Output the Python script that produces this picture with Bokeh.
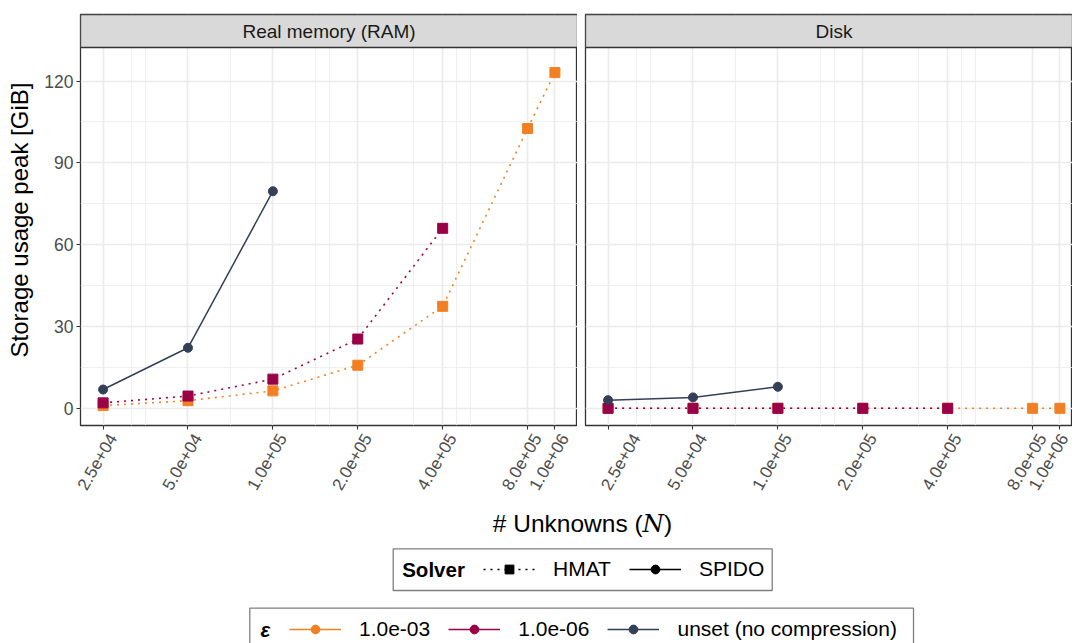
import math
from bokeh.plotting import figure
from bokeh.models import (Range1d, FixedTicker, CustomJSTickFormatter, Grid,
                          BoxAnnotation, Label, Legend, LegendItem)
from bokeh.layouts import column, row
from bokeh.embed import file_html
from bokeh.resources import INLINE

# ---------------- data ----------------
N_UNKNOWNS = [25000, 50000, 100000, 200000, 400000, 800000, 1000000]
N_TICK_LABELS = ["2.5e+04", "5.0e+04", "1.0e+05", "2.0e+05", "4.0e+05", "8.0e+05", "1.0e+06"]
PANELS = ["Real memory (RAM)", "Disk"]
SOLVERS = ["HMAT", "SPIDO"]
EPS_LABELS = ["1.0e-03", "1.0e-06", "unset (no compression)"]

# RAM peak [GiB]
HMAT_EPS3_RAM = [1.0, 2.8, 6.4, 15.8, 37.4, 102.6, 123.1]
HMAT_EPS6_RAM = [2.0, 4.5, 10.7, 25.4, 66.0]
SPIDO_RAM = [6.9, 22.2, 79.6]
# Disk peak [GiB]
HMAT_EPS3_DISK = [0.0, 0.0, 0.0, 0.0, 0.0, 0.0, 0.0]
HMAT_EPS6_DISK = [0.0, 0.0, 0.0, 0.0, 0.0]
SPIDO_DISK = [3.0, 4.0, 7.9]

Y_TICKS = [0, 30, 60, 90, 120]
Y_MINOR = [15, 45, 75, 105]
X_MINOR_LOG = [4.5, 4.55, 4.85, 5.15, 5.2, 5.5, 5.65, 5.7]

# ---------------- style / layout ----------------
FONT = "Liberation Sans"
ORANGE, PURPLE, NAVY = "#F28023", "#9A0048", "#343F58"
EPS_COLORS = [ORANGE, PURPLE, NAVY]
GRID_C = "#EBEBEB"
DARK = "#333333"

PAGE_W, PAGE_H = 1072, 643
LEFT_AXIS_W, GAP = 80, 8
FRAME_W_L = 497
FRAME_W_R = PAGE_W - LEFT_AXIS_W - FRAME_W_L - GAP
TOP_PAD, STRIP_PX, PANEL_PX, BOTTOM_AXIS = 14, 33, 378, 83
PANEL_FIG_H = TOP_PAD + STRIP_PX + PANEL_PX + BOTTOM_AXIS

lx_lo = math.log10(min(N_UNKNOWNS))
lx_hi = math.log10(max(N_UNKNOWNS))
span = lx_hi - lx_lo
LOG_START = lx_lo - 0.05 * span
LOG_END = lx_hi + 0.05 * span
PX_PER_DEC = FRAME_W_L / (LOG_END - LOG_START)
X_RANGE_L = Range1d(10 ** LOG_START, 10 ** LOG_END)
X_RANGE_R = Range1d(10 ** LOG_START, 10 ** (LOG_START + FRAME_W_R / PX_PER_DEC))

Y_LO, Y_HI = -6.3, 132.3
Y_TOP = Y_HI + (Y_HI - Y_LO) * STRIP_PX / PANEL_PX
Y_RANGE = Range1d(Y_LO, Y_TOP)
X_MINOR = [10 ** v for v in X_MINOR_LOG]


def make_panel(title, series, left_axis):
    xr = X_RANGE_L if left_axis else X_RANGE_R
    fw = FRAME_W_L if left_axis else FRAME_W_R
    p = figure(width=(LEFT_AXIS_W + fw) if left_axis else (GAP + fw), height=PANEL_FIG_H,
               x_axis_type="log", x_range=xr, y_range=Y_RANGE,
               y_axis_location="left" if left_axis else None,
               toolbar_location=None, output_backend="svg",
               min_border_left=LEFT_AXIS_W if left_axis else GAP,
               min_border_right=0,
               min_border_top=TOP_PAD, min_border_bottom=BOTTOM_AXIS)
    p.outline_line_color = DARK
    p.outline_line_width = 1.3
    p.background_fill_color = "white"
    p.border_fill_color = "white"

    p.center = [r for r in p.center if not isinstance(r, Grid)]
    xt = FixedTicker(ticks=N_UNKNOWNS, minor_ticks=X_MINOR)
    yt = FixedTicker(ticks=Y_TICKS, minor_ticks=Y_MINOR)
    for dim, tk in ((0, xt), (1, yt)):
        p.add_layout(Grid(dimension=dim, ticker=tk,
                          grid_line_color=GRID_C, grid_line_width=1.6,
                          minor_grid_line_color=GRID_C, minor_grid_line_width=0.8))

    xa = p.xaxis[0]
    xa.ticker = xt
    # leading empty line shifts each rotated label like ggplot's vjust = 1
    xa.formatter = CustomJSTickFormatter(
        args=dict(vals=N_UNKNOWNS, labs=N_TICK_LABELS),
        code="""
        for (let i = 0; i < vals.length; i++) {
            if (Math.abs(vals[i] - tick) <= 1e-6 * vals[i]) return "\\n" + labs[i];
        }
        return "";
        """)
    xa.major_label_orientation = math.pi / 3
    xa.major_label_text_font = FONT
    xa.major_label_text_font_size = "17px"
    xa.major_label_text_color = "#4D4D4D"
    xa.major_label_standoff = 0
    xa.axis_line_color = None
    xa.major_tick_line_color = DARK
    xa.major_tick_line_width = 1.1
    xa.major_tick_in = 0
    xa.major_tick_out = 4
    xa.minor_tick_line_color = None

    if left_axis:
        ya = p.yaxis[0]
        ya.ticker = yt
        ya.axis_label = "Storage usage peak [GiB]"
        ya.axis_label_text_font = FONT
        ya.axis_label_text_font_size = "24px"
        ya.axis_label_text_font_style = "normal"
        ya.axis_label_text_color = "black"
        ya.axis_label_standoff = 8
        ya.major_label_text_font = FONT
        ya.major_label_text_font_size = "17.5px"
        ya.major_label_text_color = "#4D4D4D"
        ya.major_label_standoff = 3
        ya.axis_line_color = None
        ya.major_tick_line_color = DARK
        ya.major_tick_line_width = 1.1
        ya.major_tick_in = 0
        ya.major_tick_out = 4
        ya.minor_tick_line_color = None

    # data: lines first, then points
    for xs, ys, col, solver in series:
        if solver == "HMAT":
            p.line(xs, ys, line_color=col, line_width=1.6, line_dash="2 5")
        else:
            p.line(xs, ys, line_color=col, line_width=1.5)
    for xs, ys, col, solver in series:
        if solver == "HMAT":
            p.scatter(xs, ys, marker="square", size=10, fill_color=col, line_color=col)
        else:
            p.scatter(xs, ys, marker="circle", size=9, fill_color=col, line_color=col)

    # facet strip
    p.add_layout(BoxAnnotation(bottom=Y_HI, fill_color="#D9D9D9", fill_alpha=1.0,
                               line_color=DARK, line_width=1.3, line_alpha=1.0))
    xc = 10 ** ((math.log10(X_RANGE_L.start) + math.log10(X_RANGE_L.end)) / 2)
    p.add_layout(Label(x=xc, y=(Y_HI + Y_TOP) / 2, text=title, text_align="center",
                       text_baseline="middle", text_font=FONT, text_font_size="19px",
                       text_color="#1A1A1A"))
    return p


ram_series = [
    (N_UNKNOWNS[:len(HMAT_EPS3_RAM)], HMAT_EPS3_RAM, ORANGE, "HMAT"),
    (N_UNKNOWNS[:len(HMAT_EPS6_RAM)], HMAT_EPS6_RAM, PURPLE, "HMAT"),
    (N_UNKNOWNS[:len(SPIDO_RAM)], SPIDO_RAM, NAVY, "SPIDO"),
]
disk_series = [
    (N_UNKNOWNS[:len(HMAT_EPS3_DISK)], HMAT_EPS3_DISK, ORANGE, "HMAT"),
    (N_UNKNOWNS[:len(HMAT_EPS6_DISK)], HMAT_EPS6_DISK, PURPLE, "HMAT"),
    (N_UNKNOWNS[:len(SPIDO_DISK)], SPIDO_DISK, NAVY, "SPIDO"),
]

p_ram = make_panel(PANELS[0], ram_series, True)
p_disk = make_panel(PANELS[1], disk_series, False)

# ---------------- bottom: axis title + legends (page-pixel coordinates) ----------------
B_Y0 = PANEL_FIG_H
B_H = PAGE_H - B_Y0
fa = figure(width=PAGE_W, height=B_H,
            x_range=Range1d(0, PAGE_W),
            y_range=Range1d(PAGE_H, B_Y0),
            x_axis_location=None, y_axis_location=None, toolbar_location=None,
            output_backend="svg", min_border_left=0, min_border_right=0,
            min_border_top=0, min_border_bottom=0)
fa.outline_line_color = None
fa.background_fill_color = "white"
fa.border_fill_color = "white"
fa.center = [r for r in fa.center if not isinstance(r, Grid)]

fa.add_layout(Label(x=582, y=523, text="# Unknowns (\U0001D441)", text_align="center",
                    text_baseline="middle", text_font=FONT + ", DejaVu Serif",
                    text_font_size="24.5px", text_color="black"))

nan = float("nan")
solver_items = []
for s in SOLVERS:
    if s == "HMAT":
        rl = fa.line([nan], [nan], line_color="black", line_width=1.5, line_dash="2 5")
        rp = fa.scatter([nan], [nan], marker="square", size=9, color="black")
    else:
        rl = fa.line([nan], [nan], line_color="black", line_width=1.5)
        rp = fa.scatter([nan], [nan], marker="circle", size=7, color="black")
    solver_items.append(LegendItem(label=s, renderers=[rl, rp]))

eps_items = []
for lab, col in zip(EPS_LABELS, EPS_COLORS):
    rl = fa.line([nan], [nan], line_color=col, line_width=1.5)
    rp = fa.scatter([nan], [nan], marker="circle", size=8, color=col)
    eps_items.append(LegendItem(label=lab, renderers=[rl, rp]))


def legend_block(items, title, title_style, box_l, box_r, box_t, box_b, title_x, keys_x):
    yc = (box_t + box_b) / 2
    fa.add_layout(BoxAnnotation(left=box_l, right=box_r, top=box_t, bottom=box_b,
                                fill_color="white", fill_alpha=1.0,
                                line_color="#7F7F7F", line_width=1.3, line_alpha=1.0))
    fa.add_layout(Label(x=title_x, y=yc, text=title, text_align="left",
                        text_baseline="middle", text_font=FONT, text_font_size="20.5px",
                        text_font_style=title_style, text_color="black"))
    # tuple location = lower-left corner of the item row, relative to the frame
    leg = Legend(items=items, orientation="horizontal",
                 location=(keys_x, PAGE_H - (yc + 12)), margin=0)
    leg.label_text_font = FONT
    leg.label_text_font_size = "21px"
    leg.label_text_color = "black"
    leg.border_line_color = None
    leg.background_fill_alpha = 0.0
    leg.padding = 9
    leg.spacing = 18
    leg.label_standoff = 18
    leg.glyph_width = 52
    leg.glyph_height = 22
    fa.add_layout(leg)


legend_block(solver_items, "Solver", "bold", 392.7, 771.7, 548.3, 590.0, 401.7, 483)
legend_block(eps_items, "\u03b5", "bold italic", 249.3, 913.0, 607.7, 649.7, 260.0, 289)

layout = column(row(p_ram, p_disk), fa)
open("out.html", "w").write(file_html(layout, INLINE))
